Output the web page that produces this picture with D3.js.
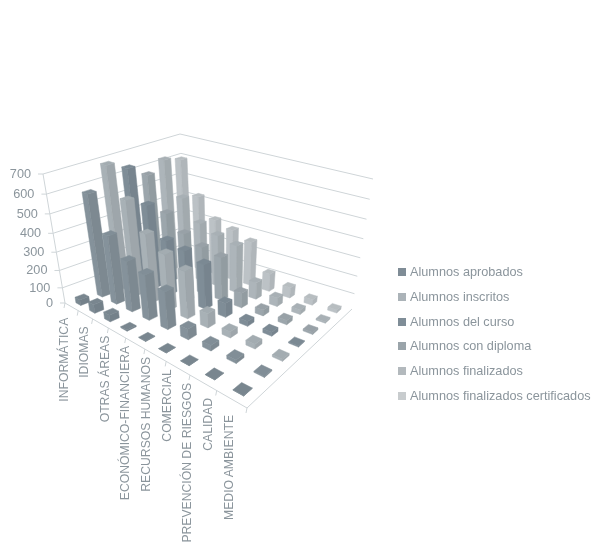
<!DOCTYPE html>
<html><head><meta charset="utf-8"><style>html,body{margin:0;padding:0;background:#fff}svg{display:block;filter:blur(.5px)}</style>
<script src="https://cdn.jsdelivr.net/npm/d3@7"></script></head><body><svg id="c" width="592" height="543"></svg>
<script>
const categories=["INFORMÁTICA","IDIOMAS","OTRAS ÁREAS","ECONÓMICO-FINANCIERA","RECURSOS HUMANOS","COMERCIAL","PREVENCIÓN DE RIESGOS","CALIDAD","MEDIO AMBIENTE"];
const legendNames=["Alumnos aprobados","Alumnos inscritos","Alumnos del curso","Alumnos con diploma","Alumnos finalizados","Alumnos finalizados certificados"];
const valueTicks=[0,100,200,300,400,500,600,700];
const rowFront=[40,58,46,9,5,2,2,2,2];
const aprobados=[573,391,295,265,221,68,37,25,8];
const inscritos=[684,534,393,324,276,91,42,33,15];
const delCurso=[636,474,318,298,263,91,34,28,9];
const conDiploma=[572,397,317,277,256,96,41,31,15];
const finalizados=[622,446,338,302,279,107,58,33,12];
const certificados=[596,424,323,295,260,112,69,39,23];
const rows=[rowFront,aprobados,inscritos,delCurso,conDiploma,finalizados,certificados];
const rowColors=["#7c8a93","#85929b","#a8b1b6","#7f8d97","#9ca6ac","#adb5ba","#bcc2c6"];
const legendColors=["#7f8c96","#abb3b8","#7f8d97","#9aa4aa","#b3b9bd","#c8ccce"];
const textColor="#8b959c",gridColor="#cfd5d8",font="Liberation Sans";
function hom(P0,P1,P2,P3){const dx1=P1[0]-P2[0],dx2=P3[0]-P2[0],sx=P0[0]-P1[0]+P2[0]-P3[0],dy1=P1[1]-P2[1],dy2=P3[1]-P2[1],sy=P0[1]-P1[1]+P2[1]-P3[1];
const den=dx1*dy2-dx2*dy1,g=(sx*dy2-dx2*sy)/den,h=(dx1*sy-sx*dy1)/den;
const a=P1[0]-P0[0]+g*P1[0],b=P3[0]-P0[0]+h*P3[0],d=P1[1]-P0[1]+g*P1[1],e=P3[1]-P0[1]+h*P3[1];
return (u,v)=>{const W=g*u+h*v+1;return [(a*u+b*v+P0[0])/W,(d*u+e*v+P0[1])/W];};}
const F=hom([65,303],[247,408],[352,309],[186,258]),T=hom([43,174],[240,256],[373,179],[180,134]);
const zS=d3.scalePow().exponent(1.1).domain([0,700]).range([0,1]);
const uS=d3.scaleBand().domain(d3.range(categories.length)).range([0,1]).paddingInner(.64).paddingOuter(.32);
const vS=d3.scaleBand().domain(d3.range(rows.length)).range([0,1]).paddingInner(.6).paddingOuter(.3);
const labelX=d3.scaleLinear().domain([0,categories.length-1]).range([67.5,232.5]);
const pr=(u,v,z)=>{const f=F(u,v),t=T(u,v),k=zS(z);return [f[0]+(t[0]-f[0])*k,f[1]+(t[1]-f[1])*k];};
const svg=d3.select("#c"),line=d3.line();
const wall=svg.append("g").attr("fill","none").attr("stroke",gridColor).attr("stroke-width",1);
const addText=(sel)=>sel.attr("fill",textColor).attr("font-family",font);
valueTicks.forEach(t=>{
  if(t>0)wall.append("path").attr("d",line([pr(0,0,t),pr(0,1,t),pr(1,1,t)]));
  const p=pr(0,0,t);
  wall.append("path").attr("d",line([p,[p[0]-5,p[1]]]));
  addText(svg.append("text")).attr("x",p[0]-12).attr("y",p[1]+4).attr("text-anchor","end").attr("font-size",12.7).text(t);
});
wall.append("path").attr("d",line([pr(0,0,700),pr(0,0,0),pr(1,0,0),pr(1,1,0)]));
d3.range(categories.length+1).forEach(i=>{const p=pr(i/categories.length,0,0);wall.append("path").attr("d",line([p,[p[0]-1,p[1]+5]]));});
categories.forEach((c,i)=>{const p=pr((i+.5)/categories.length,0,0),s=i/(categories.length-1);
  addText(svg.append("text")).attr("transform",`translate(${labelX(i)},${p[1]+11+5*s}) rotate(-90)`).attr("text-anchor","end").attr("font-size",12.2).text(c);});
const bars=[];rows.forEach((r,j)=>r.forEach((val,i)=>bars.push({i,j,val,c:rowColors[j],k:pr(uS(i),vS(j),0)[1]})));
bars.sort((x,y)=>x.k-y.k);
const poly=(sel,pts,f)=>sel.append("polygon").attr("points",pts.map(p=>p.join(",")).join(" ")).attr("fill",f).attr("stroke",f).attr("stroke-width",.5);
const gb=svg.append("g");
bars.forEach(o=>{const u0=uS(o.i),u1=u0+uS.bandwidth(),v0=vS(o.j),v1=v0+vS.bandwidth(),z=o.val,col=d3.color(o.c);
  const G=gb.append("g");
  poly(G,[pr(u0,v0,0),pr(u1,v0,0),pr(u1,v0,z),pr(u0,v0,z)],col.formatHex());
  poly(G,[pr(u1,v0,0),pr(u1,v1,0),pr(u1,v1,z),pr(u1,v0,z)],col.darker(.18).formatHex());
  poly(G,[pr(u0,v0,z),pr(u1,v0,z),pr(u1,v1,z),pr(u0,v1,z)],col.darker(.08).formatHex());
});
const ly=[272,297,322,346,371,396];
legendNames.forEach((n,i)=>{svg.append("rect").attr("x",398).attr("y",ly[i]-4).attr("width",8).attr("height",8).attr("fill",legendColors[i]);
 addText(svg.append("text")).attr("x",410).attr("y",ly[i]+4).attr("font-size",12.7).text(n);});
</script></body></html>
